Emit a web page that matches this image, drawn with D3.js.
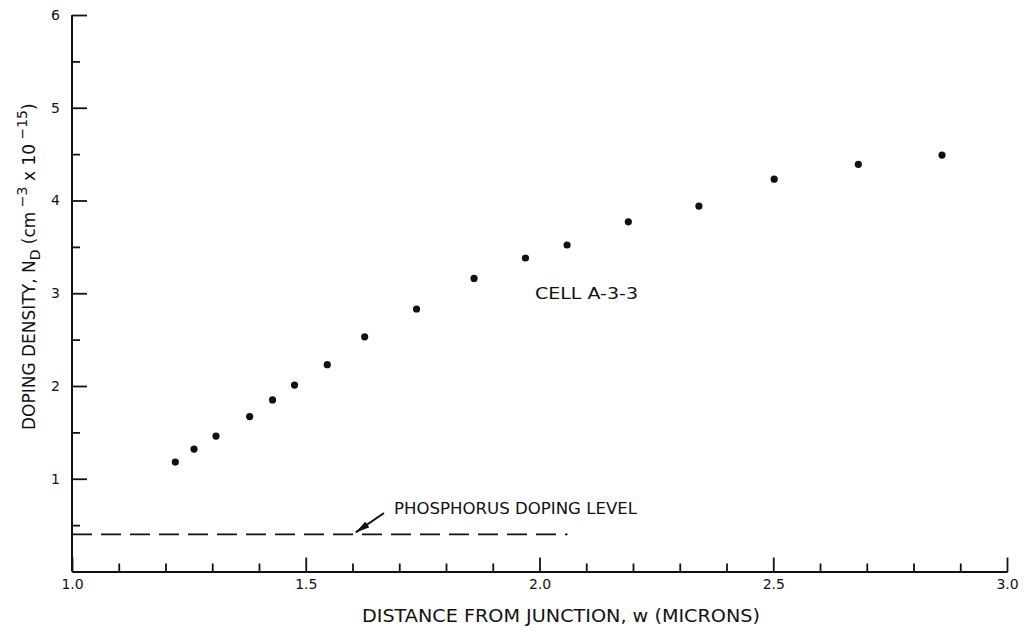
<!DOCTYPE html>
<html>
<head>
<meta charset="utf-8">
<script src="https://cdn.jsdelivr.net/npm/d3@7/dist/d3.min.js"></script>
<style>
  html, body { margin: 0; padding: 0; background: #fff; }
  svg { display: block; }
  text { font-family: "DejaVu Sans", "Liberation Sans", Arial, sans-serif; fill: #111; }
</style>
</head>
<body>
<svg id="chart" width="1024" height="634"></svg>
<script>
// Measured donor density vs. distance from the junction (cell A-3-3)
const distance = [1.221, 1.261, 1.308, 1.380, 1.429, 1.476, 1.546, 1.626, 1.737,
                  1.860, 1.970, 2.059, 2.190, 2.341, 2.502, 2.682, 2.861];
const density  = [1.18, 1.32, 1.46, 1.67, 1.85, 2.01, 2.23, 2.53, 2.83,
                  3.16, 3.38, 3.52, 3.77, 3.94, 4.23, 4.39, 4.49];

// Background phosphorus level (horizontal dashed reference)
const phosphorusLevel = 0.4;
const phosphorusSpan = [1.0, 2.06];

// Axis ticks
const xMajorTicks = [1.0, 1.5, 2.0, 2.5, 3.0];
const xMajorLabels = ["1.0", "1.5", "2.0", "2.5", "3.0"];
const xMinorTicks = [1.1, 1.2, 1.3, 1.4, 1.6, 1.7, 1.8, 1.9, 2.1, 2.2, 2.3, 2.4, 2.6, 2.7, 2.8, 2.9];
const yMajorTicks = [1, 2, 3, 4, 5, 6];
const yMajorLabels = ["1", "2", "3", "4", "5", "6"];
const yMinorTicks = [0.5, 1.5, 2.5, 3.5, 4.5, 5.5];

const svg = d3.select("#chart");
const ink = "#111";
const font = "'DejaVu Sans', 'Liberation Sans', Arial, sans-serif";

const x = d3.scaleLinear().domain([1, 3]).range([72, 1007]);
const y = d3.scaleLinear().domain([0, 6]).range([571.5, 15]);

const axisY0 = y(0);

// x axis: minor ticks, then major ticks with labels
const gxMinor = svg.append("g").attr("transform", `translate(0,${axisY0})`)
  .call(d3.axisBottom(x).tickValues(xMinorTicks).tickSizeInner(-8).tickSizeOuter(0).tickFormat(""));
const gxMajor = svg.append("g").attr("transform", `translate(0,${axisY0})`)
  .call(d3.axisBottom(x).tickValues(xMajorTicks).tickSizeInner(-14).tickSizeOuter(0)
    .tickPadding(8).tickFormat((d, i) => xMajorLabels[i]));

// y axis
const gyMinor = svg.append("g").attr("transform", `translate(${x(1)},0)`)
  .call(d3.axisLeft(y).tickValues(yMinorTicks).tickSizeInner(-8).tickSizeOuter(0).tickFormat(""));
const gyMajor = svg.append("g").attr("transform", `translate(${x(1)},0)`)
  .call(d3.axisLeft(y).tickValues(yMajorTicks).tickSizeInner(-15).tickSizeOuter(0)
    .tickPadding(12).tickFormat((d, i) => yMajorLabels[i]));

// y axis line spans the full 0..6 range
gyMajor.select(".domain").remove();
gyMinor.select(".domain").remove();
svg.append("line")
  .attr("x1", x(1)).attr("x2", x(1))
  .attr("y1", y(6)).attr("y2", y(0))
  .attr("stroke", ink).attr("stroke-width", 2);

[gxMinor, gxMajor, gyMinor, gyMajor].forEach(g => {
  g.selectAll(".domain").attr("stroke", ink).attr("stroke-width", 2);
  g.selectAll(".tick line").attr("stroke", ink).attr("stroke-width", 1.8);
  g.selectAll(".tick text").attr("font-size", 14).attr("fill", ink)
    .style("font-family", font);
});

// phosphorus doping level
svg.append("line")
  .attr("x1", x(phosphorusSpan[0])).attr("x2", x(phosphorusSpan[1]))
  .attr("y1", y(phosphorusLevel)).attr("y2", y(phosphorusLevel))
  .attr("stroke", ink).attr("stroke-width", 1.8)
  .attr("stroke-dasharray", "20 9");

// data points
svg.append("g").selectAll("circle")
  .data(distance.map((d, i) => [d, density[i]]))
  .join("circle")
  .attr("cx", d => x(d[0]))
  .attr("cy", d => y(d[1]))
  .attr("r", 3.6)
  .attr("fill", ink);

// labels
svg.append("text")
  .attr("x", 535).attr("y", 298.5)
  .attr("font-size", 15.5)
  .attr("textLength", 103).attr("lengthAdjust", "spacingAndGlyphs")
  .text("CELL A-3-3");

svg.append("text")
  .attr("x", 394).attr("y", 514)
  .attr("font-size", 15)
  .attr("textLength", 243).attr("lengthAdjust", "spacingAndGlyphs")
  .text("PHOSPHORUS DOPING LEVEL");

// arrow toward the dashed line
const tail = [384, 513];
const tip = [x(1.607), y(phosphorusLevel) - 2];
svg.append("defs").append("marker")
  .attr("id", "head").attr("viewBox", "0 0 14 7")
  .attr("refX", 14).attr("refY", 3.5)
  .attr("markerWidth", 14).attr("markerHeight", 7)
  .attr("markerUnits", "userSpaceOnUse")
  .attr("orient", "auto")
  .append("path").attr("d", "M0,0 L14,3.5 L0,7 Z").attr("fill", ink);
svg.append("line")
  .attr("x1", tail[0]).attr("y1", tail[1])
  .attr("x2", tip[0]).attr("y2", tip[1])
  .attr("stroke", ink).attr("stroke-width", 2)
  .attr("marker-end", "url(#head)");

// x axis title
svg.append("text")
  .attr("x", 362).attr("y", 622)
  .attr("font-size", 17)
  .attr("textLength", 398).attr("lengthAdjust", "spacingAndGlyphs")
  .text("DISTANCE FROM JUNCTION, w (MICRONS)");

// y axis title with sub/superscripts
const yt = svg.append("text")
  .attr("transform", `translate(35,430) rotate(-90)`)
  .attr("font-size", 17);
yt.append("tspan").text("DOPING DENSITY, N");
yt.append("tspan").attr("font-size", 14).attr("dy", 5).text("D");
yt.append("tspan").attr("dy", -5).text(" (cm");
yt.append("tspan").attr("font-size", 14).attr("dy", -8).text(" −3");
yt.append("tspan").attr("dy", 8).text(" x 10");
yt.append("tspan").attr("font-size", 14).attr("dy", -8).text(" −15");
yt.append("tspan").attr("dy", 8).text(")");
</script>
</body>
</html>
